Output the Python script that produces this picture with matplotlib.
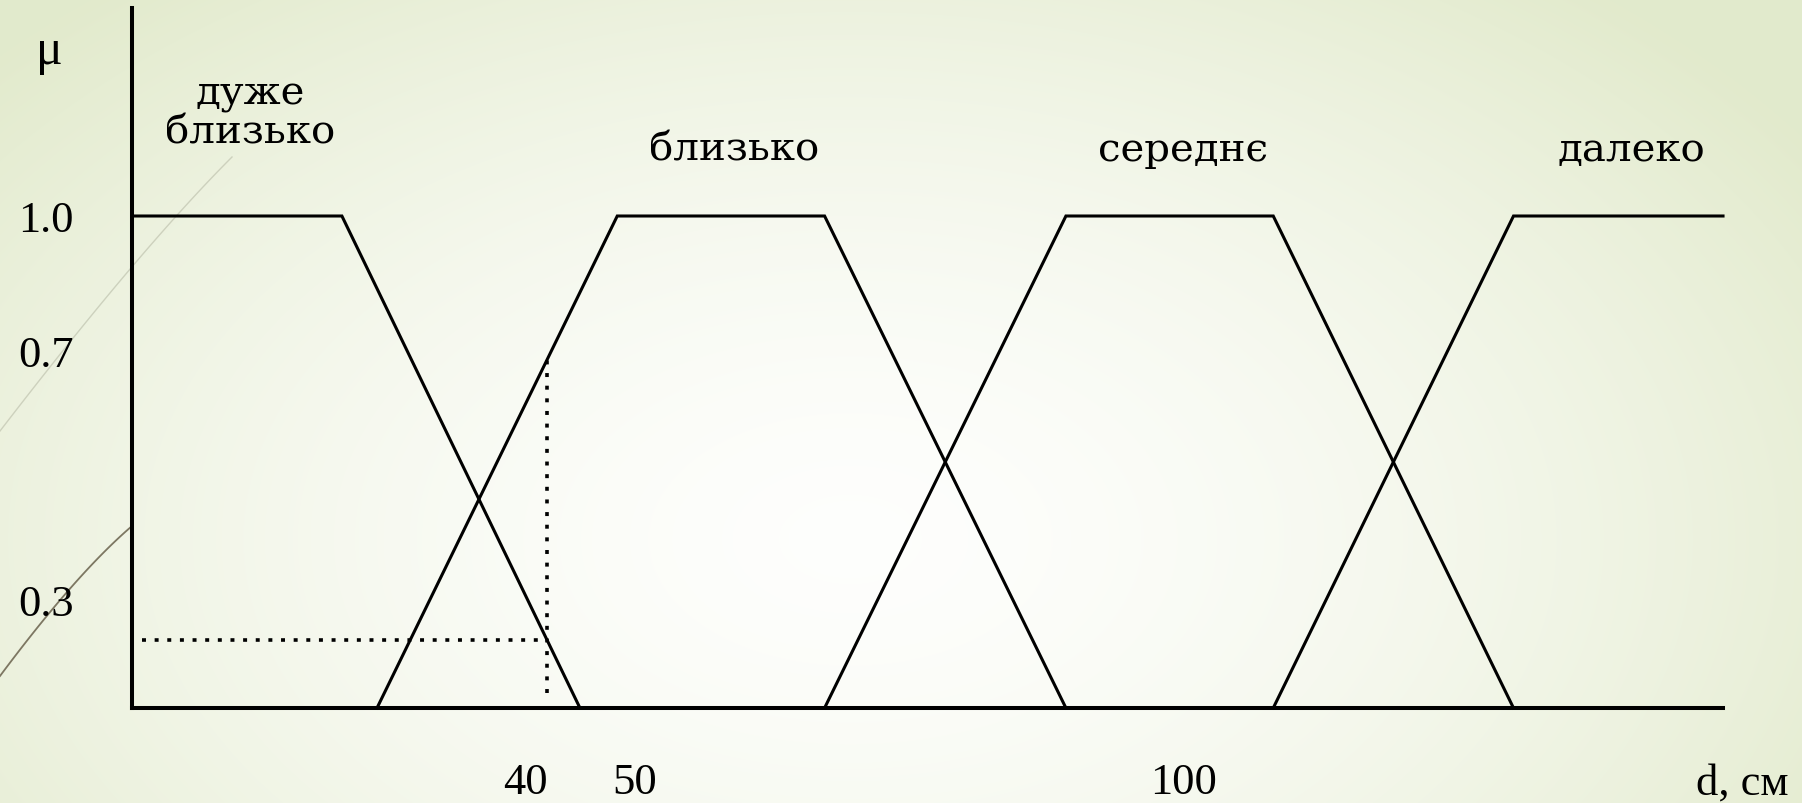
import numpy as np
import matplotlib.pyplot as plt

# терми і точки трапецій (d, см ; μ)
terms = ["дуже\nблизько", "близько", "середнє", "далеко"]
term_x = [
    [4.2, 23.3, 45.0],
    [26.5, 48.4, 67.3, 89.3],
    [67.3, 89.3, 108.2, 130.1],
    [108.2, 130.1, 149.2],
]
term_mu = [
    [1, 1, 0],
    [0, 1, 1, 0],
    [0, 1, 1, 0],
    [0, 1, 1],
]
d_sample = 42.0

x_ticks = [40, 50, 100]
x_ticklabels = ["40", "50", "100"]
y_ticklabels = ["1.0", "0.7", "0.3"]
y_tickpos = [1.0, 0.726, 0.22]   # як на рисунку (від руки)

W, H = 1802, 804
fig = plt.figure(figsize=(W / 100, H / 100), dpi=100)

# фон слайда: світло-зелений градієнт + дві дуги зліва
bg = fig.add_axes([0, 0, 1, 1], zorder=-1)
yy, xx = np.mgrid[0:H, 0:W]
d = np.sqrt(((xx - 850) / 1150.0) ** 2 + ((yy - 540) / 720.0) ** 2)
t = np.clip(d, 0, 1) ** 1.6
edge = np.array([0.886, 0.918, 0.800])
white = np.array([0.995, 0.997, 0.99])
img = white * (1 - t[..., None]) + edge * t[..., None]
bg.imshow(img, extent=(0, W, H, 0), aspect="auto")


def arc(p0, pc, p1, n=60):
    s = np.linspace(0, 1, n)[:, None]
    p0, pc, p1 = map(np.asarray, (p0, pc, p1))
    return (1 - s) ** 2 * p0 + 2 * s * (1 - s) * pc + s ** 2 * p1


a1 = arc((0, 432), (140, 250), (232, 158))
a2 = arc((0, 677), (76, 575), (132, 527))
bg.plot(a1[:, 0], a1[:, 1], color="#cdd1bd", lw=1.0)
bg.plot(a2[:, 0], a2[:, 1], color="#7d7762", lw=1.3)
bg.set_xlim(0, W)
bg.set_ylim(H, 0)
bg.axis("off")

ax = fig.add_axes([132 / W, (H - 709) / H, (1723 - 132) / W, (709 - 9) / H])
ax.set_facecolor("none")
px0, kx = 86.3, 10.97
ax.set_xlim((132 - px0) / kx, (1723 - px0) / kx)
ax.set_ylim(0, 700 / 492)

for x, mu in zip(term_x, term_mu):
    ax.plot(x, mu, color="black", lw=2.2, solid_joinstyle="miter", clip_on=False)

mu_hi = np.interp(d_sample, term_x[1], term_mu[1])
mu_lo = np.interp(d_sample, term_x[0], term_mu[0])
ax.plot([d_sample, d_sample], [0.03, mu_hi], color="black", lw=2.6,
        linestyle=(0, (1.1, 2.4)))
ax.plot([5.1, d_sample], [mu_lo, mu_lo], color="black", lw=2.6,
        linestyle=(0, (1.1, 2.4)))

word_font = "DejaVu Serif"
num_font = "Liberation Serif"
for name, x, mu in zip(terms, term_x, term_mu):
    top = [xi for xi, m in zip(x, mu) if m == 1]
    xc = (top[0] + top[-1]) / 2
    yb = 1.150 if "\n" in name else 1.114
    ax.text(xc + 1.2, yb, name, ha="center", va="baseline", fontsize=29,
            family=word_font, linespacing=1.05, multialignment="center")

for s in ["top", "right"]:
    ax.spines[s].set_visible(False)
for s in ["left", "bottom"]:
    ax.spines[s].set_linewidth(2.9)

ax.set_xticks(x_ticks)
ax.set_xticklabels(x_ticklabels, family=num_font, fontsize=32)
ax.set_yticks(y_tickpos)
ax.set_yticklabels(y_ticklabels, family=num_font, fontsize=32)
ax.tick_params(axis="x", length=0, pad=39)
ax.tick_params(axis="y", length=0, pad=42)

ax.annotate("d, см", xy=((1742 - px0) / kx, 0), xytext=(0, -39),
            textcoords="offset points", ha="center", va="top",
            fontsize=32, family=num_font, annotation_clip=False)
fig.text(49 / W, 1 - 52 / H, "μ", ha="center", va="center",
         fontsize=36, family=num_font)

fig.savefig("out.png", dpi=100)
